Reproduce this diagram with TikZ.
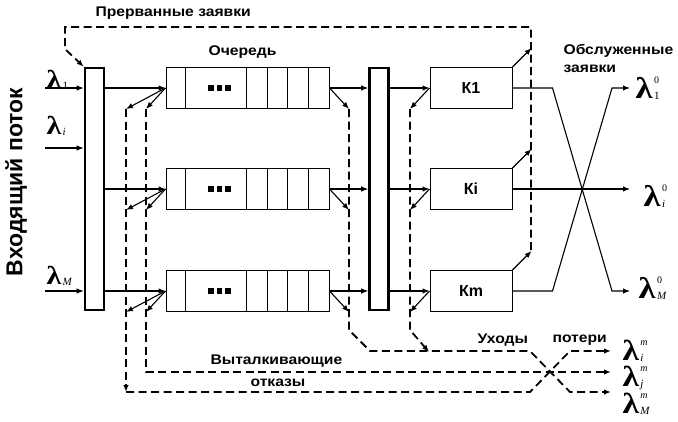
\documentclass[tikz,border=0pt]{standalone}
\usepackage{fontspec}
\setmainfont{Liberation Sans}
\newfontfamily\labfont[FakeStretch=1.12]{Liberation Sans}
\newfontfamily\lamfont[FakeStretch=1.15]{Liberation Serif}
\newfontfamily\idxfont{Liberation Serif}
\usetikzlibrary{arrows.meta,calc}
% #1 size of lambda, #2 superscript, #3 subscript
\newcommand{\mylam}[3]{{\lamfont\bfseries\fontsize{#1}{#1}\selectfont λ}\kern1.5pt%
\rlap{\smash{\raisebox{0.5\dimexpr#1pt\relax}{\idxfont\fontsize{10}{10}\selectfont #2}}}%
\smash{\raisebox{-1.5pt}{\idxfont\fontsize{11}{11}\selectfont #3}}}
\begin{document}
\begin{tikzpicture}[x=1pt,y=-1pt,
  >={Latex[length=7pt,width=5.5pt]},
  line width=1.1pt,
  switchbox/.style={draw, line width=2.6pt, minimum width=19pt, minimum height=242pt, inner sep=0pt},
  qbox/.style={draw, line width=1pt, minimum width=163pt, minimum height=41pt, inner sep=0pt},
  kbox/.style={draw, line width=1pt, minimum width=82pt, minimum height=41pt, inner sep=0pt,
    font=\bfseries\fontsize{16}{16}\selectfont},
  dline/.style={dash pattern=on 8pt off 4.5pt, line width=1.8pt},
  lab/.style={font=\labfont\bfseries\fontsize{14}{14}\selectfont, inner sep=0pt, anchor=base west},
  lamlab/.style={inner sep=0pt, anchor=base west}]
\useasboundingbox (0,0) rectangle (678,421);

% switches
\node[switchbox] (sw1) at (94.5,189) {};
\node[switchbox] (sw2) at (379,189) {};
% queues
\node[qbox] (q1) at (247.5,88) {};
\node[qbox] (q2) at (247.5,189) {};
\node[qbox] (q3) at (247.5,291) {};
\foreach \q in {q1,q2,q3}{
  \foreach \dx in {20,81,102,122,143}{
    \draw[line width=1pt] ([xshift=\dx pt]\q.north west) -- ([xshift=\dx pt]\q.south west);
  }
  \foreach \dx in {45.5,54,62.5}{
    \fill ([xshift=\dx pt]\q.west) ++(-2.6,-2.6) rectangle ++(5.2,5.2);
  }
}
% servers
\node[kbox] (k1) at (471,88) {К1};
\node[kbox] (k2) at (471,189) {Кi};
\node[kbox] (k3) at (471,291) {Кm};

% coordinates
\coordinate (in1) at (45,88);
\coordinate (in2) at (45,148);
\coordinate (in3) at (45,291);
\coordinate (ra) at (126,392);
\coordinate (pa) at (146,372);
\coordinate (ua) at (349,330);
\coordinate (ub) at (370,351);
\coordinate (kb) at (410,330);
\coordinate (kc) at (429,352);
\coordinate (tr) at (531,250);
\coordinate (tl) at (65,27);
\coordinate (lmi) at (611,351);
\coordinate (lmj) at (611,372);
\coordinate (lmM) at (611,392);
\coordinate (o1) at (630,88);
\coordinate (o2) at (630,189);
\coordinate (o3) at (630,291);

% inputs
\foreach \i in {in1,in2,in3}
  \draw[->] (\i) -- (\i -| sw1.west);

\foreach \q/\k in {q1/k1,q2/k2,q3/k3}{
  \draw[->] (\q.west -| sw1.east) -- (\q.west);
  \draw[->] (\q.west) -- (\q.south west -| ra);
  \draw[->] (\q.west) -- (\q.south west -| pa);
  \draw[->] (\q.east) -- (\q.east -| sw2.west);
  \draw[->] (\q.east) -- (\q.south east -| ua);
  \draw[->] (\k.west -| sw2.east) -- (\k.west);
  \draw[->] (\k.west) -- (\k.south west -| kb);
  \draw[->] (\k.north east) -- ($(\k.north east)+(19,-19)$);
}

% outputs of servers
\draw[->] (k1.east) -- ++(40,0) -- (612,291) -- (o3);
\draw[->] (k3.east) -- ++(40,0) -- (612,88) -- (o1);
\draw[->] (k2.east) -- (o2);

% dashed routes
\draw[dline,->] (q1.south west -| ra) -- (ra);
\draw[dline,->] (ra) -- (530,392) -- (570,351) -- (lmi);
\draw[dline,->] (q1.south west -| pa) -- (pa) -- (lmj);
\draw[dline,->] (q1.south east -| ua) -- (ua) -- (ub) -- (530,351) -- (570,392) -- (lmM);
\draw[dline,->] (k1.south west -| kb) -- (kb) -- (kc);
\draw[dline,->] (tr) -- (tr |- tl) -- (tl) -- (65,49) -- (sw1.north west);

% texts
\node[rotate=90, font=\bfseries\fontsize{23}{23}\selectfont, inner sep=0pt] (vx) at (16,182) {Входящий поток};
\node[lab] (tp) at (95,16) {Прерванные заявки};
\node[lab] (tq) at (208,55) {Очередь};
\node[lab] (ts1) at (563,54) {Обслуженные};
\node[lab] (ts2) at (563,72) {заявки};
\node[lab] (tu) at (477,343) {Уходы};
\node[lab] (tpo) at (552,342) {потери};
\node[lab] (tv) at (210,364) {Выталкивающие};
\node[lab] (to) at (250,386) {отказы};

% lambdas
\node[lamlab] (l1) at (46,88) {\mylam{26}{}{1}};
\node[lamlab] (li) at (46,134) {\mylam{26}{}{\itshape i}};
\node[lamlab] (lM) at (46,284) {\mylam{26}{}{\itshape M}};
\node[lamlab] (r1) at (635,98) {\mylam{30}{0}{1}};
\node[lamlab] (ri) at (643,206) {\mylam{30}{0}{\itshape i}};
\node[lamlab] (rM) at (638,298) {\mylam{30}{0}{\itshape M}};
\node[lamlab] (mi) at (622,360) {\mylam{29}{\itshape m}{\itshape i}};
\node[lamlab] (mj) at (622,386) {\mylam{29}{\itshape m}{\itshape j}};
\node[lamlab] (mM) at (622,413) {\mylam{29}{\itshape m}{\itshape M}};
\end{tikzpicture}
\end{document}
